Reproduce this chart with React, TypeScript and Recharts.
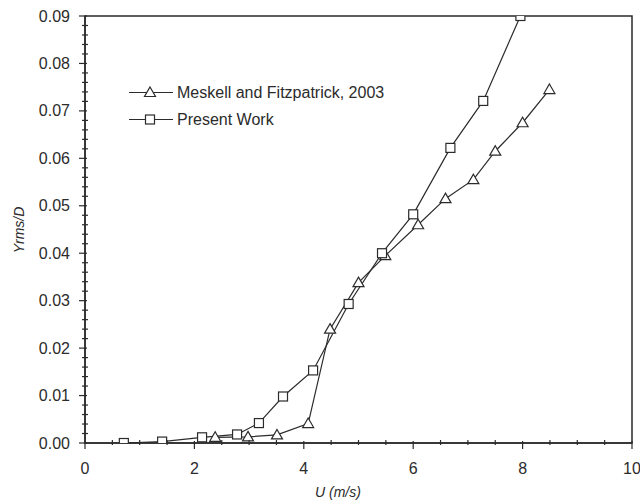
import React from 'react';
import { LineChart, Line, XAxis, YAxis, ReferenceArea, Label } from 'recharts';

// Meskell and Fitzpatrick, 2003 (triangles)
const meskellU = [2.38, 2.98, 3.51, 4.08, 4.48, 5.0, 5.49, 6.09, 6.59, 7.1, 7.5, 8.0, 8.49];
const meskellY = [0.0012, 0.0013, 0.0017, 0.0041, 0.024, 0.0338, 0.0395, 0.046, 0.0515, 0.0555, 0.0615, 0.0675, 0.0745];

// Present Work (squares)
const presentU = [0.71, 1.41, 2.14, 2.78, 3.18, 3.62, 4.17, 4.82, 5.43, 6.0, 6.68, 7.28, 7.96];
const presentY = [0.0, 0.0003, 0.0012, 0.0018, 0.0042, 0.0098, 0.0153, 0.0293, 0.04, 0.0482, 0.0622, 0.0721, 0.09];

const xTicks = [0, 0.5, 1, 1.5, 2, 2.5, 3, 3.5, 4, 4.5, 5, 5.5, 6, 6.5, 7, 7.5, 8, 8.5, 9, 9.5, 10];
const xMajor = [0, 2, 4, 6, 8, 10];
const yTicks = [
  0, 0.002, 0.004, 0.006, 0.008, 0.01, 0.012, 0.014, 0.016, 0.018,
  0.02, 0.022, 0.024, 0.026, 0.028, 0.03, 0.032, 0.034, 0.036, 0.038,
  0.04, 0.042, 0.044, 0.046, 0.048, 0.05, 0.052, 0.054, 0.056, 0.058,
  0.06, 0.062, 0.064, 0.066, 0.068, 0.07, 0.072, 0.074, 0.076, 0.078,
  0.08, 0.082, 0.084, 0.086, 0.088, 0.09,
];

const meskellData = meskellU.map((u, i) => ({ x: u, y: meskellY[i] }));
const presentData = presentU.map((u, i) => ({ x: u, y: presentY[i] }));

const FONT = '"Liberation Sans", Arial, Helvetica, sans-serif';
const INK = '#2b2b2b';

const TriangleDot = ({ cx, cy }: any) => {
  if (cx == null || cy == null) return null;
  return (
    <path
      d={`M${cx},${cy - 5.5} L${cx + 5.5},${cy + 4} L${cx - 5.5},${cy + 4} Z`}
      fill="#fff"
      stroke={INK}
      strokeWidth={1.2}
    />
  );
};

const SquareDot = ({ cx, cy }: any) => {
  if (cx == null || cy == null) return null;
  return <rect x={cx - 4.5} y={cy - 4.5} width={9} height={9} fill="#fff" stroke={INK} strokeWidth={1.2} />;
};

const XTick = ({ x, y, payload }: any) => {
  const major = xMajor.includes(payload.value);
  return (
    <g>
      <line x1={x} x2={x} y1={major ? y - 2 : y - 3} y2={major ? y + 6 : y + 2} stroke={INK} strokeWidth={1.2} />
      {major && (
        <text x={x} y={y + 31} textAnchor="middle" fontSize={16} fontFamily={FONT} fill={INK}>
          {payload.value}
        </text>
      )}
    </g>
  );
};

const YTick = ({ x, y, payload }: any) => {
  const v = payload.value * 100;
  const major = Math.abs(v - Math.round(v)) < 1e-6;
  return (
    <g>
      <line x1={major ? x - 6 : x - 3} x2={major ? x + 2 : x + 3} y1={y} y2={y} stroke={INK} strokeWidth={1.2} />
      {major && (
        <text x={x - 15} y={y + 5.5} textAnchor="end" fontSize={16} fontFamily={FONT} fill={INK}>
          {payload.value.toFixed(2)}
        </text>
      )}
    </g>
  );
};

const legendItems = [
  { name: 'Meskell and Fitzpatrick, 2003', marker: 'tri' },
  { name: 'Present Work', marker: 'sq' },
];

const LegendBox = () => (
  <div style={{ position: 'absolute', top: 79, left: 129, fontFamily: FONT, fontSize: 16, color: INK }}>
    {legendItems.map((item) => (
      <div key={item.name} style={{ display: 'flex', alignItems: 'center', height: 27 }}>
        <svg width={44} height={27}>
          <line x1={0} x2={44} y1={13.5} y2={13.5} stroke={INK} strokeWidth={1.2} />
          {item.marker === 'tri' ? <TriangleDot cx={21} cy={13.5} /> : <SquareDot cx={21} cy={13.5} />}
        </svg>
        <span style={{ marginLeft: 4, whiteSpace: 'nowrap' }}>{item.name}</span>
      </div>
    ))}
  </div>
);

export default function App() {
  return (
    <div style={{ width: 624, height: 485 }}>
      <div style={{ position: 'fixed', top: 0, left: 0, width: 640, height: 501, background: '#fff' }}>
        <LineChart width={640} height={501} margin={{ top: 16, right: 8, left: 0, bottom: 0 }}>
          <XAxis
            type="number"
            dataKey="x"
            domain={[0, 10]}
            ticks={xTicks}
            interval={0}
            tickSize={0}
            tickMargin={0}
            tickLine={false}
            tick={<XTick />}
            height={58}
            stroke={INK}
            strokeWidth={1.5}
            allowDataOverflow
          >
            <Label
              content={() => (
                <text x={338} y={497} textAnchor="middle" fontSize={14} fontStyle="italic" fontFamily={FONT} fill={INK}>
                  U (m/s)
                </text>
              )}
            />
          </XAxis>
          <YAxis
            type="number"
            dataKey="y"
            domain={[0, 0.09]}
            ticks={yTicks}
            interval={0}
            tickSize={0}
            tickMargin={0}
            tickLine={false}
            tick={<YTick />}
            width={85}
            stroke={INK}
            strokeWidth={1.5}
            allowDataOverflow
          >
            <Label
              content={() => (
                <text
                  x={19}
                  y={230}
                  transform="rotate(-90 19 230)"
                  textAnchor="middle"
                  dominantBaseline="central"
                  fontSize={14}
                  fontStyle="italic"
                  fontFamily={FONT}
                  fill={INK}
                >
                  Yrms/D
                </text>
              )}
            />
          </YAxis>
          <ReferenceArea x1={0} x2={10} y1={0} y2={0.09} fill="none" stroke={INK} strokeWidth={1.5} ifOverflow="visible" />
          <Line
            data={meskellData}
            dataKey="y"
            name="Meskell and Fitzpatrick, 2003"
            stroke={INK}
            strokeWidth={1.2}
            dot={<TriangleDot />}
            activeDot={false}
            isAnimationActive={false}
          />
          <Line
            data={presentData}
            dataKey="y"
            name="Present Work"
            stroke={INK}
            strokeWidth={1.2}
            dot={<SquareDot />}
            activeDot={false}
            isAnimationActive={false}
          />
        </LineChart>
        <LegendBox />
      </div>
    </div>
  );
}
